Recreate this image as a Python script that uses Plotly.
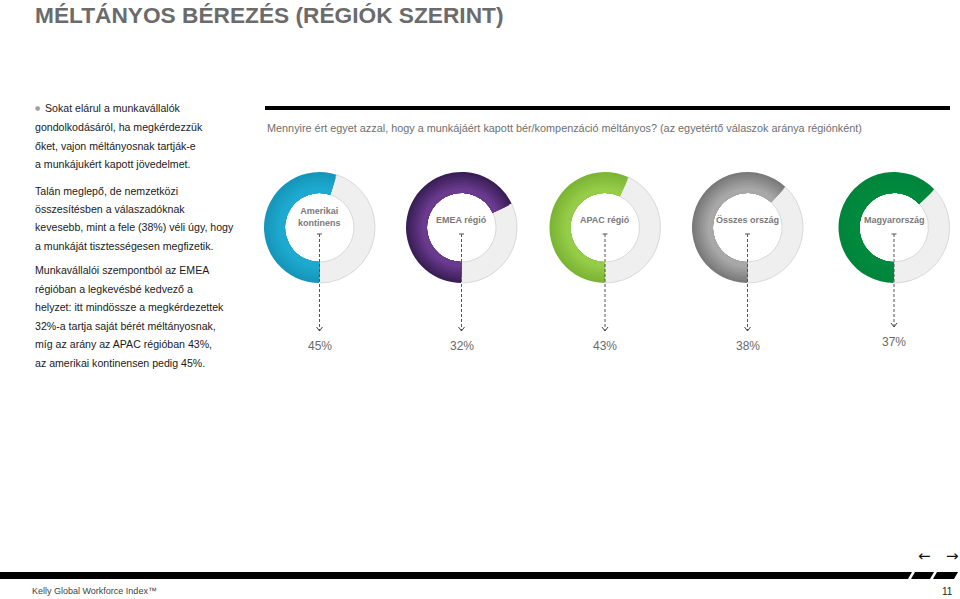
import plotly.graph_objects as go

W, H = 960, 599

# ---- data ----
regions = ["Amerikai<br>kontinens", "EMEA régió", "APAC régió", "Összes ország", "Magyarország"]
values = [45, 32, 43, 38, 37]
value_labels = ["45%", "32%", "43%", "38%", "37%"]
outer_colors = ["#1696ba", "#3a1f57", "#7cb534", "#7a7a7a", "#00853c"]
inner_colors = ["#1eaad0", "#6a3a8e", "#95cc48", "#a8a8a8", "#008a3e"]

title = "MÉLTÁNYOS BÉREZÉS (RÉGIÓK SZERINT)"
subtitle = ("Mennyire ért egyet azzal, hogy a munkájáért kapott bér/kompenzáció méltányos? "
            "(az egyetértő válaszok aránya régiónként)")
left_lines = [
    "Sokat elárul a munkavállalók",
    "gondolkodásáról, ha megkérdezzük",
    "őket, vajon méltányosnak tartják-e",
    "a munkájukért kapott jövedelmet.",
    "Talán meglepő, de nemzetközi",
    "összesítésben a válaszadóknak",
    "kevesebb, mint a fele (38%) véli úgy, hogy",
    "a munkáját tisztességesen megfizetik.",
    "Munkavállalói szempontból az EMEA",
    "régióban a legkevésbé kedvező a",
    "helyzet: itt mindössze a megkérdezettek",
    "32%-a tartja saját bérét méltányosnak,",
    "míg az arány az APAC régióban 43%,",
    "az amerikai kontinensen pedig 45%.",
]
left_y = [108, 127, 146, 164, 191, 209, 227, 246, 270, 289, 307, 326, 344, 363]
footer = "Kelly Global Workforce Index™"
page = "11"

# ---- layout helpers ----
def px(x):
    return x / W

def py(y):
    return 1 - y / H

def mix(c1, c2, t):
    a = [int(c1[i:i + 2], 16) for i in (1, 3, 5)]
    b = [int(c2[i:i + 2], 16) for i in (1, 3, 5)]
    return "#%02x%02x%02x" % tuple(round(a[k] + (b[k] - a[k]) * t) for k in range(3))

centers_x = [319.5, 461.5, 605, 747.5, 894]
cy = 227.5
R = 55.5
R_IN = 34.5
label_y = [346, 346, 346, 346, 342]
arrow_end = [331, 331, 331, 331, 327]
N_LAYERS = 7

fig = go.Figure()

for i, v in enumerate(values):
    cx = centers_x[i]
    for j in range(N_LAYERS):
        rr = R - j * (R - R_IN - 3) / N_LAYERS
        t = j / (N_LAYERS - 1)
        col = mix(outer_colors[i], inner_colors[i], t)
        first = j == 0
        fig.add_trace(go.Pie(
            values=[100 - v, v],
            labels=["nem", "igen"],
            hole=R_IN / rr,
            sort=False,
            direction="clockwise",
            rotation=180,
            textinfo="none",
            hoverinfo="skip",
            showlegend=False,
            marker=dict(colors=[col, "#efefef" if first else "rgba(0,0,0,0)"],
                        line=dict(color=[col, "#d9d9d9"], width=[0, 1 if first else 0])),
            domain=dict(x=[px(cx - rr), px(cx + rr)], y=[py(cy + rr), py(cy - rr)]),
        ))

shapes = []
annotations = []

# title
annotations.append(dict(x=px(33), y=py(15), xref="paper", yref="paper", text=f"<b>{title}</b>",
                        showarrow=False, xanchor="left", yanchor="middle",
                        font=dict(family="Liberation Sans, Arial", size=22.7, color="#6b6b6b")))
# top black bar
shapes.append(dict(type="rect", xref="paper", yref="paper", x0=px(265), x1=px(950),
                   y0=py(110), y1=py(106), fillcolor="#000000", line=dict(width=0)))
annotations.append(dict(x=px(265), y=py(128), xref="paper", yref="paper", text=subtitle,
                        showarrow=False, xanchor="left", yanchor="middle",
                        font=dict(family="Liberation Sans, Arial", size=10.85, color="#6f6f6f")))

# left text
for k, (t, yy) in enumerate(zip(left_lines, left_y)):
    x0 = 33
    if k == 0:
        annotations.append(dict(x=px(33), y=py(yy), xref="paper", yref="paper", text="●",
                                showarrow=False, xanchor="left", yanchor="middle",
                                font=dict(family="DejaVu Sans", size=6, color="#a0a0a0")))
        x0 = 43
    annotations.append(dict(x=px(x0), y=py(yy), xref="paper", yref="paper", text=t,
                            showarrow=False, xanchor="left", yanchor="middle",
                            font=dict(family="Liberation Sans, Arial", size=10.6, color="#1a1a1a")))

# donut labels, dashed arrows and values
for i, name in enumerate(regions):
    cx = centers_x[i]
    lab_y = 217 if "<br>" in name else 220
    annotations.append(dict(x=px(cx), y=py(lab_y), xref="paper", yref="paper",
                            text=f"<b>{name}</b>", showarrow=False,
                            xanchor="center", yanchor="middle",
                            font=dict(family="Liberation Sans, Arial", size=9, color="#7a7a7a")))
    top = 234
    bot = arrow_end[i]
    shapes.append(dict(type="line", xref="paper", yref="paper", x0=px(cx), x1=px(cx),
                       y0=py(top), y1=py(bot), line=dict(color="#555555", width=1, dash="3px,2px")))
    shapes.append(dict(type="line", xref="paper", yref="paper", x0=px(cx - 2.5), x1=px(cx + 2.5),
                       y0=py(top), y1=py(top), line=dict(color="#555555", width=1)))
    shapes.append(dict(type="path", xref="paper", yref="paper",
                       path=f"M {px(cx-3)},{py(bot-4)} L {px(cx)},{py(bot)} L {px(cx+3)},{py(bot-4)}",
                       line=dict(color="#444444", width=1)))
    annotations.append(dict(x=px(cx), y=py(label_y[i]), xref="paper", yref="paper",
                            text=value_labels[i], showarrow=False,
                            xanchor="center", yanchor="middle",
                            font=dict(family="Liberation Sans, Arial", size=12, color="#6a6a6a")))

# bottom bar with slanted cuts
shapes.append(dict(type="path", xref="paper", yref="paper",
                   path=f"M {px(0)},{py(572)} L {px(958)},{py(572)} L {px(954)},{py(579)} L {px(0)},{py(579)} Z",
                   fillcolor="#000000", line=dict(width=0)))
for gx in [912, 934]:
    shapes.append(dict(type="path", xref="paper", yref="paper",
                       path=(f"M {px(gx)},{py(572)} L {px(gx+3)},{py(572)} "
                             f"L {px(gx-1)},{py(579)} L {px(gx-4)},{py(579)} Z"),
                       fillcolor="#ffffff", line=dict(width=0)))

annotations.append(dict(x=px(30), y=py(591), xref="paper", yref="paper", text=footer,
                        showarrow=False, xanchor="left", yanchor="middle",
                        font=dict(family="Liberation Sans, Arial", size=9, color="#444444")))
annotations.append(dict(x=px(955), y=py(591), xref="paper", yref="paper", text=page,
                        showarrow=False, xanchor="right", yanchor="middle",
                        font=dict(family="Liberation Sans, Arial", size=10, color="#222222")))
annotations.append(dict(x=px(924), y=py(556), xref="paper", yref="paper", text="←",
                        showarrow=False, xanchor="center", yanchor="middle",
                        font=dict(family="DejaVu Sans", size=15, color="#111111")))
annotations.append(dict(x=px(952), y=py(556), xref="paper", yref="paper", text="→",
                        showarrow=False, xanchor="center", yanchor="middle",
                        font=dict(family="DejaVu Sans", size=15, color="#111111")))

fig.update_layout(
    width=W, height=H,
    margin=dict(l=0, r=0, t=0, b=0),
    paper_bgcolor="#ffffff",
    plot_bgcolor="#ffffff",
    shapes=shapes,
    annotations=annotations,
)

fig.write_html(
    "out.html",
    config={"displayModeBar": False},
    post_script="document.body.style.margin='0';document.body.style.padding='0';document.body.style.overflow='hidden';",
)
